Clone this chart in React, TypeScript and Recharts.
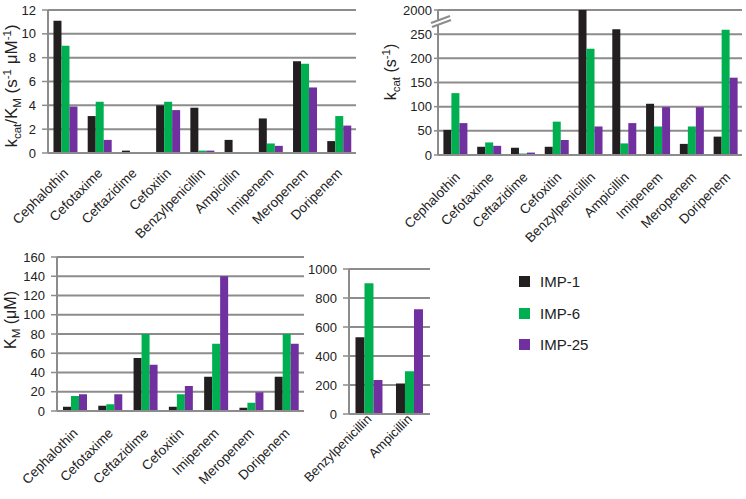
import { BarChart, Bar, XAxis, YAxis, CartesianGrid } from 'recharts';

const GRID = '#8c8c8c';
const IMP1_COLOR = '#231f20';
const IMP6_COLOR = '#00b050';
const IMP25_COLOR = '#7030a0';
const FONT = '"Liberation Sans", Arial, sans-serif';

// kcat/KM (s-1 uM-1)
const allCats = ['Cephalothin', 'Cefotaxime', 'Ceftazidime', 'Cefoxitin', 'Benzylpenicillin', 'Ampicillin', 'Imipenem', 'Meropenem', 'Doripenem'];
const ratioImp1 = [11.1, 3.1, 0.2, 4.0, 3.8, 1.1, 2.9, 7.7, 1.0];
const ratioImp6 = [9.0, 4.3, 0.05, 4.3, 0.2, 0.05, 0.8, 7.5, 3.1];
const ratioImp25 = [3.9, 1.1, 0.05, 3.6, 0.2, 0.03, 0.6, 5.5, 2.3];
const ratioTicks = [0, 2, 4, 6, 8, 10, 12];

// kcat (s-1), axis broken above 250 (top tick reads 2000)
const kcatImp1 = [52, 17, 15, 17, 2000, 260, 106, 23, 38];
const kcatImp6 = [128, 26, 3, 69, 220, 24, 59, 59, 259];
const kcatImp25 = [66, 19, 5, 31, 59, 66, 99, 99, 160];
const kcatTicks = [0, 50, 100, 150, 200, 250, 300];

// KM (uM)
const kmCats = ['Cephalothin', 'Cefotaxime', 'Ceftazidime', 'Cefoxitin', 'Imipenem', 'Meropenem', 'Doripenem'];
const kmImp1 = [4.5, 5.5, 55, 4.5, 35.5, 3.5, 35.5];
const kmImp6 = [15.5, 7, 80, 17.5, 70, 8.5, 80];
const kmImp25 = [17.5, 17.5, 48, 26, 140, 19.5, 70];
const kmTicks = [0, 20, 40, 60, 80, 100, 120, 140, 160];

const kmHighCats = ['Benzylpenicillin', 'Ampicillin'];
const kmHighImp1 = [529, 211];
const kmHighImp6 = [901, 294];
const kmHighImp25 = [234, 722];
const kmHighTicks = [0, 200, 400, 600, 800, 1000];

const series = [
  { key: 'imp1', name: 'IMP-1', color: IMP1_COLOR },
  { key: 'imp6', name: 'IMP-6', color: IMP6_COLOR },
  { key: 'imp25', name: 'IMP-25', color: IMP25_COLOR },
];

function rows(cats: string[], a: number[], b: number[], c: number[]) {
  return cats.map((name, i) => ({ name, imp1: a[i], imp6: b[i], imp25: c[i] }));
}

// slanted category label, anchored at its end
function slantTick(offX: number, offY: number, size: number) {
  return (props: any) => {
    const { x, y, payload } = props;
    return (
      <text
        transform={`translate(${x + offX},${y + offY}) rotate(-45)`}
        textAnchor="end"
        fontSize={size}
        fontFamily={FONT}
        fill="#222"
      >
        {payload.value}
      </text>
    );
  };
}

interface PanelProps {
  data: { name: string; imp1: number; imp6: number; imp25: number }[];
  left: number;
  top: number;
  width: number;
  height: number;
  yWidth: number;
  labelHeight: number;
  labelOff: [number, number];
  labelSize?: number;
  ticks: number[];
  tickMargin: number;
  tickSize: number;
  fmt?: (v: number) => string;
  gap: string;
}

function Panel(p: PanelProps) {
  const n = p.data.length;
  const bounds = Array.from({ length: n + 1 }, (_, i) => i);
  return (
    <div style={{ position: 'absolute', left: p.left, top: p.top }}>
      <BarChart
        width={p.width}
        height={p.height}
        data={p.data}
        margin={{ top: 10, right: 4, left: 0, bottom: 0 }}
        barCategoryGap={p.gap}
        barGap={0}
      >
        <CartesianGrid xAxisId="z" vertical={false} stroke={GRID} strokeWidth={2} />
        {/* tick marks between categories */}
        <XAxis
          xAxisId="a"
          type="number"
          domain={[0, n]}
          ticks={bounds}
          tick={false}
          tickSize={5}
          height={6}
          axisLine={{ stroke: GRID, strokeWidth: 2 }}
          tickLine={{ stroke: GRID, strokeWidth: 2 }}
        />
        <XAxis
          xAxisId="z"
          dataKey="name"
          interval={0}
          height={p.labelHeight}
          axisLine={false}
          tickLine={false}
          tickSize={0}
          tickMargin={0}
          tick={slantTick(p.labelOff[0], p.labelOff[1], p.labelSize ?? 13.5)}
        />
        <YAxis
          width={p.yWidth}
          domain={[p.ticks[0], p.ticks[p.ticks.length - 1]]}
          ticks={p.ticks}
          allowDataOverflow
          interval={0}
          tickFormatter={p.fmt}
          tickSize={p.tickSize}
          tickMargin={p.tickMargin}
          axisLine={{ stroke: GRID, strokeWidth: 2 }}
          tickLine={{ stroke: GRID, strokeWidth: 1.5 }}
          tick={{ fontSize: 13, fill: '#222', fontFamily: FONT }}
        />
        {series.map((s) => (
          <Bar key={s.key} xAxisId="z" dataKey={s.key} name={s.name} fill={s.color} isAnimationActive={false} />
        ))}
      </BarChart>
    </div>
  );
}

export default function App() {
  const sub = { fontSize: 11.5 };
  return (
    <div
      style={{
        position: 'absolute',
        left: 0,
        top: 0,
        width: 746,
        height: 499,
        background: '#fff',
        fontFamily: FONT,
        overflow: 'hidden',
      }}
    >
      <Panel
        data={rows(allCats, ratioImp1, ratioImp6, ratioImp25)}
        left={0}
        top={0}
        width={360}
        height={250}
        yWidth={48}
        labelHeight={91}
        labelOff={[4, 15]}
        ticks={ratioTicks}
        tickSize={6}
        tickMargin={6}
        gap="16%"
      />
      <Panel
        data={rows(allCats, kcatImp1, kcatImp6, kcatImp25)}
        left={380}
        top={0}
        width={366}
        height={250}
        yWidth={58}
        labelHeight={89}
        labelOff={[6, 17]}
        ticks={kcatTicks}
        tickSize={4}
        tickMargin={2}
        fmt={(v) => (v === 300 ? '2000' : String(v))}
        gap="16%"
      />
      <Panel
        data={rows(kmCats, kmImp1, kmImp6, kmImp25)}
        left={0}
        top={247}
        width={308}
        height={252}
        yWidth={57}
        labelHeight={82}
        labelOff={[4, 17]}
        ticks={kmTicks}
        tickSize={6}
        tickMargin={6}
        gap="17%"
      />
      <Panel
        data={rows(kmHighCats, kmHighImp1, kmHighImp6, kmHighImp25)}
        left={300}
        top={259}
        width={134}
        height={240}
        yWidth={49}
        labelHeight={79}
        labelOff={[3, 0]}
        labelSize={13}
        ticks={kmHighTicks}
        tickSize={6}
        tickMargin={6}
        gap="16%"
      />

      <svg
        width={746}
        height={499}
        style={{ position: 'absolute', left: 0, top: 0, pointerEvents: 'none' }}
        fontFamily={FONT}
        fill="#222"
      >
        <text transform="translate(17,86) rotate(-90)" textAnchor="middle" fontSize={17}>
          k<tspan dy={4} style={sub}>cat</tspan>
          <tspan dy={-4}>/K</tspan>
          <tspan dy={4} style={sub}>M</tspan>
          <tspan dy={-4}> (s</tspan>
          <tspan dy={-6} style={sub}>-1</tspan>
          <tspan dy={6}> μM</tspan>
          <tspan dy={-6} style={sub}>-1</tspan>
          <tspan dy={6}>)</tspan>
        </text>
        <text transform="translate(396,72) rotate(-90)" textAnchor="middle" fontSize={16}>
          k<tspan dy={4} style={sub}>cat</tspan>
          <tspan dy={-4}> (s</tspan>
          <tspan dy={-6} style={sub}>-1</tspan>
          <tspan dy={6}>)</tspan>
        </text>
        <text transform="translate(16,320) rotate(-90)" textAnchor="middle" fontSize={16}>
          K<tspan dy={4} style={sub}>M</tspan>
          <tspan dy={-4}> (μM)</tspan>
        </text>
        {/* axis break marks */}
        <polygon points="431,23 450,16 451,20 432,27" fill="#fff" />
        <line x1={431} y1={23} x2={450} y2={16} stroke={GRID} strokeWidth={2} />
        <line x1={432} y1={27} x2={451} y2={20} stroke={GRID} strokeWidth={2} />
      </svg>

      {series.map((s, i) => (
        <div
          key={s.key}
          style={{
            position: 'absolute',
            left: 519,
            top: 273 + i * 31.5,
            display: 'flex',
            alignItems: 'center',
            fontSize: 15,
            color: '#222',
          }}
        >
          <span style={{ display: 'inline-block', width: 11, height: 11, background: s.color, marginRight: 10 }} />
          {s.name}
        </div>
      ))}
    </div>
  );
}
